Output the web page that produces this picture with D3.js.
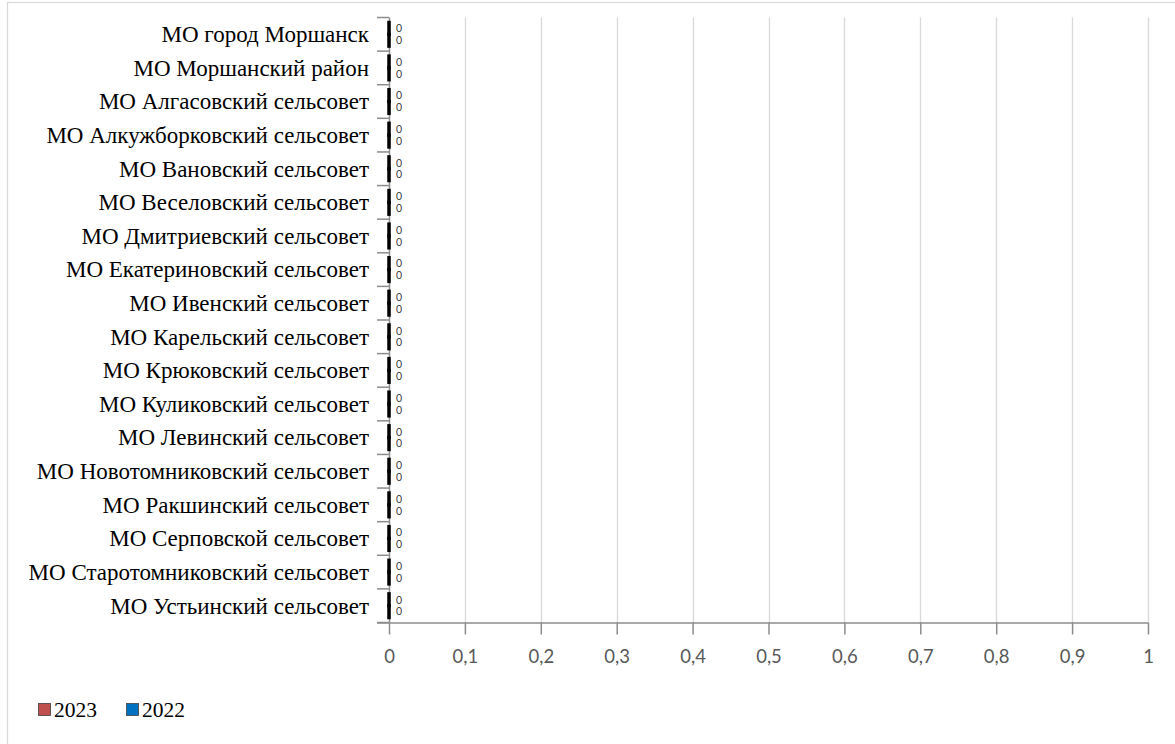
<!DOCTYPE html>
<html><head><meta charset="utf-8">
<script src="https://cdn.jsdelivr.net/npm/d3@7"></script>
<style>body{margin:0;background:#fff}svg{display:block}</style>
</head><body>
<svg id="c" width="1175" height="744"></svg>
<script>
const categories = ["МО город Моршанск","МО Моршанский район","МО Алгасовский сельсовет","МО Алкужборковский сельсовет","МО Вановский сельсовет","МО Веселовский сельсовет","МО Дмитриевский сельсовет","МО Екатериновский сельсовет","МО Ивенский сельсовет","МО Карельский сельсовет","МО Крюковский сельсовет","МО Куликовский сельсовет","МО Левинский сельсовет","МО Новотомниковский сельсовет","МО Ракшинский сельсовет","МО Серповской сельсовет","МО Старотомниковский сельсовет","МО Устьинский сельсовет"];
const values2023 = [0,0,0,0,0,0,0,0,0,0,0,0,0,0,0,0,0,0];
const values2022 = [0,0,0,0,0,0,0,0,0,0,0,0,0,0,0,0,0,0];
const seriesNames = ["2023","2022"];
const tickValues = [0,0.1,0.2,0.3,0.4,0.5,0.6,0.7,0.8,0.9,1];
const tickLabels = ["0","0,1","0,2","0,3","0,4","0,5","0,6","0,7","0,8","0,9","1"];

const svg = d3.select("#c");
svg.append("rect").attr("x",7.5).attr("y",2.5).attr("width",1175).attr("height",750)
  .attr("fill","#fff").attr("stroke","#d9d9d9").attr("stroke-width",1.2);

const L=389, R=1148, T=17.5, B=622.5;
const x = d3.scaleLinear().domain([0,1]).range([L,R]);
const y = d3.scaleBand().domain(categories).range([T,B]);

// gridlines
svg.append("g").selectAll("line").data(tickValues.slice(1)).join("line")
  .attr("x1",d=>Math.round(x(d))+0.5).attr("x2",d=>Math.round(x(d))+0.5)
  .attr("y1",T).attr("y2",B).attr("stroke","#d9d9d9").attr("stroke-width",1.3);

// x axis
const xAxis = d3.axisBottom(x).tickValues(tickValues).tickFormat((d,i)=>tickLabels[i]).tickSize(12).tickPadding(15);
const gx = svg.append("g").attr("transform",`translate(0,${B})`).call(xAxis);
gx.select(".domain").attr("d",`M${377},0.5H${R}`).attr("stroke","#8c8c8c").attr("stroke-width",1.5);
gx.selectAll(".tick line").attr("stroke","#8c8c8c").attr("stroke-width",1.5);
gx.selectAll(".tick text").attr("font-family","Lato, 'Open Sans', sans-serif").attr("font-weight",400)
  .attr("font-size",18.5).attr("fill","#595959");

// y axis
const gy = svg.append("g").attr("transform",`translate(${L},0)`)
  .call(d3.axisLeft(y).tickSize(0).tickPadding(20));
gy.select(".domain").attr("stroke","#8c8c8c").attr("stroke-width",1.5).attr("d",`M0.5,${T}V${B}`);
gy.selectAll(".tick text").attr("font-family","'Liberation Serif', 'Times New Roman', serif")
  .attr("font-size",23).attr("fill","#000").attr("dy","0.34em");
// category separator ticks
svg.append("g").selectAll("line").data(categories.concat(["_end"])).join("line")
  .attr("x1",377).attr("x2",L)
  .attr("y1",(d,i)=>T+i*y.bandwidth()).attr("y2",(d,i)=>T+i*y.bandwidth())
  .attr("stroke","#8c8c8c").attr("stroke-width",1.5);

// bars
const rows = categories.map((c,i)=>({c, v:[{s:"2022",v:values2022[i],col:"#0070c0"},{s:"2023",v:values2023[i],col:"#c0504d"}]}));
const order = ["2022","2023"];
const ySub2 = d3.scaleBand().domain(order).range([5, y.bandwidth()-5]);
const g = svg.append("g");
rows.forEach(r=>{
  r.v.forEach(s=>{
    const w = Math.max(x(s.v)-x(0), 0.01);
    g.append("rect").attr("x",x(0)).attr("y",y(r.c)+ySub2(s.s)).attr("width",w).attr("height",ySub2.bandwidth())
      .attr("fill",s.col).attr("stroke","#000").attr("stroke-width",3.5);
    g.append("text").attr("x",x(s.v)+7).attr("y",y(r.c)+ySub2(s.s)+ySub2.bandwidth()/2)
      .attr("dy","0.36em").attr("font-family","Lato, 'Open Sans', sans-serif").attr("font-weight",400)
      .attr("font-size",10.5).attr("fill","#404040").text(String(s.v));
  });
});

// legend
const legend = [{n:"2023",c:"#c0504d",x:38},{n:"2022",c:"#0070c0",x:126}];
const lg = svg.append("g");
legend.forEach(l=>{
  lg.append("rect").attr("x",l.x+0.5).attr("y",703.5).attr("width",12).attr("height",12).attr("fill",l.c).attr("stroke","#404040").attr("stroke-width",0.8);
  lg.append("text").attr("x",l.x+16).attr("y",710).attr("dy","0.34em")
    .attr("font-family","'Liberation Serif', 'Times New Roman', serif").attr("font-size",21.5).attr("fill","#000").text(l.n);
});
</script>
</body></html>
